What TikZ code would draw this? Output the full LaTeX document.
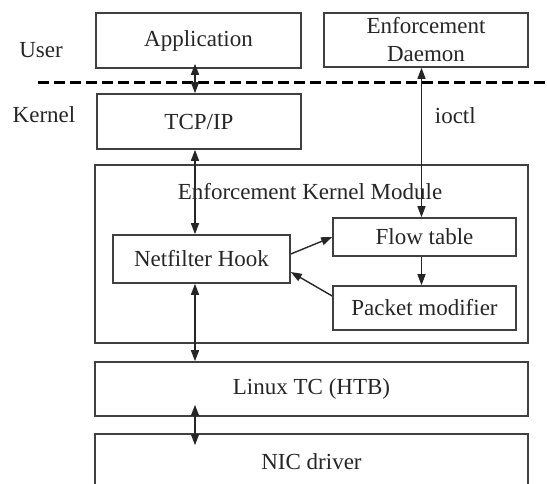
\documentclass[tikz,border=0pt]{standalone}
\usepackage{fontspec}
\setmainfont{Liberation Serif}
\usetikzlibrary{arrows.meta}

\begin{document}
\begin{tikzpicture}[x=1pt, y=-1pt,
		font=\fontsize{11.5}{14}\selectfont, text=black!85,
		box/.style={draw=black!75, line width=0.8pt, inner sep=0pt, align=center},
		link/.style={draw=black!85, line width=0.7pt},
		tip/.style={-{Triangle[length=5.5pt, width=4pt]}},
		dbl/.style={{Triangle[length=5.5pt, width=4pt]}-{Triangle[length=5.5pt, width=4pt]}}]
		\useasboundingbox (0,0) rectangle (273.5,241.5);

		\node (app) [box, minimum width=102.5pt, minimum height=27.5pt] at (99.25,20.25) {Application};
		\node (daemon) [box, minimum width=102pt, minimum height=27pt] at (213,20) {Enforcement\\Daemon};
		\node (tcp) [box, minimum width=102pt, minimum height=27.5pt] at (99.5,60.75) {TCP/IP};
		\node (module) [box, minimum width=216.5pt, minimum height=89pt] at (155.75,127) {};
		\node (modtitle) at (155,96) {Enforcement Kernel Module};
		\node (netfilter) [box, minimum width=88.5pt, minimum height=24pt] at (100.75,129.5) {Netfilter Hook};
		\node (flow) [box, minimum width=91.5pt, minimum height=19pt] at (212.25,118.5) {Flow table};
		\node (packet) [box, minimum width=91.5pt, minimum height=22pt] at (212.25,154) {Packet modifier};
		\node (tc) [box, minimum width=216.5pt, minimum height=27pt] at (155.75,194.5) {Linux TC (HTB)};
		\node (nic) [box, minimum width=216.5pt, minimum height=28pt] at (155.75,231) {NIC driver};

		\node (user) at (20.5,25) {User};
		\node (kernel) at (22,57.5) {Kernel};
		\coordinate (sepl) at (19,41);
		\coordinate (sepr) at (273.5,41);
		\draw [line width=1.5pt, dash pattern=on 5.5pt off 2.5pt] (sepl) -- (sepr);

		\coordinate (spine) at (97.5,0);
		\coordinate (ctl) at (210.75,0);
		\draw [link, dbl] ([yshift=2.5pt]app.south -| spine) -- (tcp.north -| spine);
		\draw [link, dbl] (tcp.south -| spine) -- (netfilter.north -| spine);
		\draw [link, dbl] (netfilter.south -| spine) -- (tc.north -| spine);
		\draw [link, dbl] ([yshift=6pt]tc.south -| spine) -- ([yshift=-6pt]nic.north -| spine);
		\draw [link, dbl] (daemon.south -| ctl) -- node (ioctl) [right=3pt, pos=0.32] {ioctl} (flow.north -| ctl);
		\draw [link, tip] (flow.south -| ctl) -- (packet.north -| ctl);
		\draw [link, tip] ([yshift=2.5pt]netfilter.east) -- (flow.west);
		\draw [link, tip] ([yshift=6pt]packet.west) -- ([yshift=-6.5pt]netfilter.east);
	\end{tikzpicture}
\end{document}
